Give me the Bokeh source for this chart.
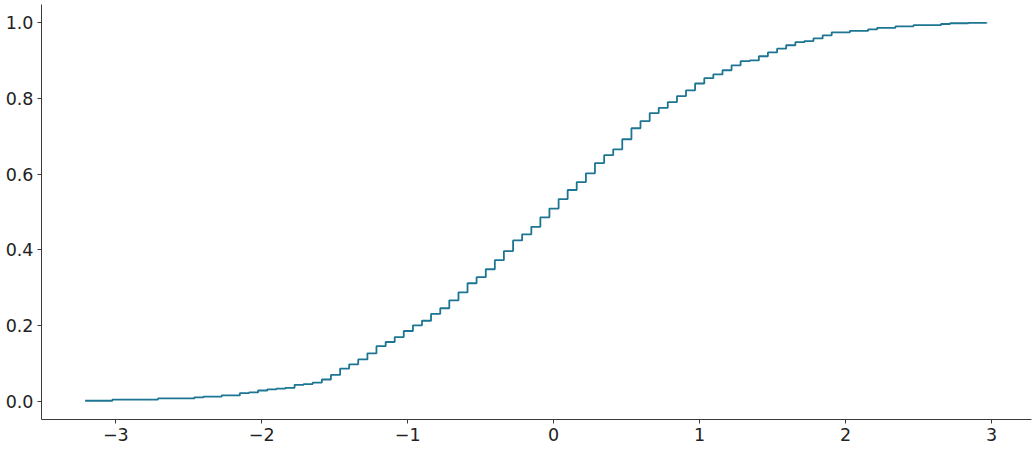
from bokeh.plotting import figure
from bokeh.models import FixedTicker, Range1d
from bokeh.embed import file_html
from bokeh.resources import INLINE

# step locations (x) and cumulative fraction (y)
x_vals = [-3.210, -3.148, -3.085, -3.023, -2.960, -2.898, -2.836, -2.773, -2.711, -2.649,
          -2.586, -2.524, -2.461, -2.399, -2.337, -2.274, -2.212, -2.150, -2.087, -2.025,
          -1.962, -1.900, -1.838, -1.775, -1.713, -1.651, -1.588, -1.526, -1.463, -1.401,
          -1.339, -1.276, -1.214, -1.151, -1.089, -1.027, -0.964, -0.902, -0.840, -0.777,
          -0.715, -0.652, -0.590, -0.528, -0.465, -0.403, -0.341, -0.278, -0.216, -0.153,
          -0.091, -0.029, 0.034, 0.096, 0.158, 0.221, 0.283, 0.346, 0.408, 0.470,
          0.533, 0.595, 0.658, 0.720, 0.782, 0.845, 0.907, 0.969, 1.032, 1.094,
          1.157, 1.219, 1.281, 1.344, 1.406, 1.468, 1.531, 1.593, 1.656, 1.718,
          1.780, 1.843, 1.905, 1.967, 2.030, 2.092, 2.155, 2.217, 2.279, 2.342,
          2.404, 2.466, 2.529, 2.591, 2.654, 2.716, 2.778, 2.841, 2.903, 2.966]

y_vals = [0.002, 0.002, 0.002, 0.005, 0.005, 0.005, 0.005, 0.005, 0.008, 0.008,
          0.008, 0.008, 0.011, 0.013, 0.013, 0.016, 0.016, 0.022, 0.024, 0.029,
          0.032, 0.034, 0.036, 0.044, 0.046, 0.050, 0.058, 0.070, 0.087, 0.098,
          0.111, 0.127, 0.146, 0.157, 0.170, 0.186, 0.201, 0.213, 0.231, 0.246,
          0.267, 0.288, 0.312, 0.328, 0.349, 0.373, 0.397, 0.425, 0.441, 0.461,
          0.486, 0.509, 0.534, 0.558, 0.579, 0.602, 0.629, 0.650, 0.665, 0.692,
          0.721, 0.740, 0.761, 0.775, 0.790, 0.806, 0.821, 0.839, 0.853, 0.863,
          0.874, 0.887, 0.898, 0.900, 0.911, 0.921, 0.931, 0.940, 0.948, 0.951,
          0.958, 0.966, 0.974, 0.974, 0.978, 0.978, 0.982, 0.986, 0.986, 0.990,
          0.990, 0.993, 0.993, 0.993, 0.996, 0.998, 0.998, 0.999, 0.999, 1.000]

x_ticks = [-3, -2, -1, 0, 1, 2, 3]
x_tick_labels = ["\u22123", "\u22122", "\u22121", "0", "1", "2", "3"]
y_ticks = [0.0, 0.2, 0.4, 0.6, 0.8, 1.0]
y_tick_labels = ["0.0", "0.2", "0.4", "0.6", "0.8", "1.0"]

p = figure(width=1035, height=450, output_backend="svg", toolbar_location=None,
           x_range=Range1d(-3.509, 3.274), y_range=Range1d(-0.0475, 1.0475),
           min_border_left=41, min_border_right=4, min_border_top=4, min_border_bottom=31)

p.step(x_vals, y_vals, mode="after", line_color="#1c7592", line_width=1.8)

p.outline_line_color = None
p.xgrid.visible = False
p.ygrid.visible = False
p.background_fill_color = "white"
p.border_fill_color = "white"

for ax in (p.xaxis[0], p.yaxis[0]):
    ax.axis_line_color = "#3a3a3a"
    ax.axis_line_width = 1
    ax.major_tick_line_color = "#3a3a3a"
    ax.major_tick_in = 0
    ax.major_tick_out = 4
    ax.minor_tick_line_color = None
    ax.major_label_text_font = "DejaVu Sans"
    ax.major_label_text_font_size = "17.5px"
    ax.major_label_text_color = "#222222"
    ax.major_label_standoff = 4

p.xaxis[0].ticker = FixedTicker(ticks=x_ticks)
p.xaxis[0].major_label_overrides = {t: l for t, l in zip(x_ticks, x_tick_labels)}
p.yaxis[0].ticker = FixedTicker(ticks=y_ticks)
p.yaxis[0].major_label_overrides = {t: l for t, l in zip(y_ticks, y_tick_labels)}

open("out.html", "w").write(file_html(p, INLINE))
